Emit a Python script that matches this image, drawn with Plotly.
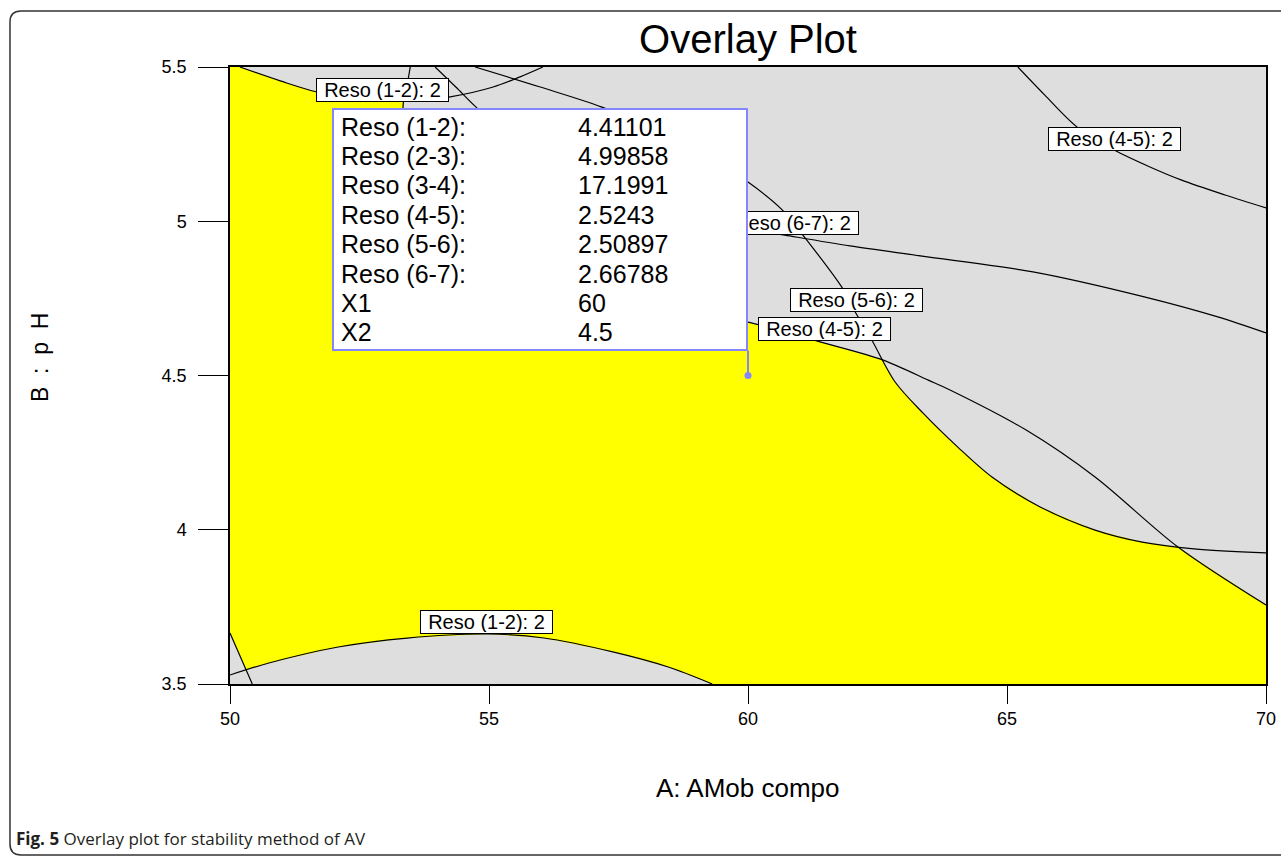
import numpy as np
import plotly.graph_objects as go

# ---------------- data ----------------
# Contour lines, each "Reso (..) = 2"; x = A: AMob compo, y = B: pH
reso12_top_x = [50.19, 50.97, 51.68, 52.41, 53.13, 53.86, 54.25, 55.08, 55.60, 56.04]
reso12_top_y = [5.500, 5.455, 5.419, 5.400, 5.390, 5.396, 5.403, 5.435, 5.468, 5.500]

reso45_low_x = [53.48, 53.42, 53.34, 53.44, 53.67, 54.15, 54.83, 55.79, 57.14, 58.69, 60.00,
                60.71, 61.39, 62.61, 63.48, 63.90, 65.37, 66.70, 68.30, 70.00]
reso45_low_y = [5.500, 5.442, 5.370, 5.296, 5.199, 5.085, 4.972, 4.868, 4.777, 4.712, 4.673,
                4.641, 4.609, 4.550, 4.485, 4.453, 4.323, 4.171, 3.944, 3.756]

reso56_x = [54.73, 55.99, 57.18, 58.69, 60.00, 60.66, 61.06, 61.82, 62.07, 62.39, 62.84,
            63.38, 64.05, 64.71, 65.64, 66.70, 67.61, 68.61, 70.00]
reso56_y = [5.500, 5.435, 5.370, 5.263, 5.127, 5.037, 4.955, 4.784, 4.706, 4.615, 4.479,
            4.378, 4.268, 4.171, 4.074, 3.999, 3.960, 3.938, 3.925]

reso67_x = [53.96, 54.36, 54.75, 55.60, 56.76, 58.11, 59.46, 60.71, 61.97, 63.36, 65.50,
            67.65, 69.07, 70.00]
reso67_y = [5.500, 5.435, 5.370, 5.247, 5.134, 5.046, 4.991, 4.955, 4.920, 4.887, 4.836,
            4.755, 4.690, 4.638]

reso45_up_x = [65.21, 65.73, 66.35, 67.07, 67.76, 68.36, 69.21, 70.00]
reso45_up_y = [5.500, 5.409, 5.306, 5.231, 5.176, 5.134, 5.085, 5.043]

reso12_low_x = [50.00, 50.75, 52.09, 53.42, 54.98, 56.06, 57.39, 58.46, 59.31]
reso12_low_y = [3.529, 3.568, 3.620, 3.649, 3.662, 3.649, 3.604, 3.555, 3.500]

edge_line_x = [50.00, 50.43]
edge_line_y = [3.665, 3.500]

# contour labels
label_text = ["Reso (1-2): 2", "Reso (1-2): 2", "Reso (6-7): 2", "Reso (5-6): 2",
              "Reso (4-5): 2", "Reso (4-5): 2"]
label_x = [52.95, 54.96, 60.85, 62.09, 61.47, 67.07]
label_y = [5.425, 3.701, 4.994, 4.745, 4.651, 5.267]

# flag / info box
flag_names = ["Reso (1-2):", "Reso (2-3):", "Reso (3-4):", "Reso (4-5):",
              "Reso (5-6):", "Reso (6-7):", "X1", "X2"]
flag_values = ["4.41101", "4.99858", "17.1991", "2.5243", "2.50897", "2.66788", "60", "4.5"]
flag_point = (60, 4.5)

x_ticks = [50, 55, 60, 65, 70]
y_ticks = [3.5, 4, 4.5, 5, 5.5]
y_tick_text = ["3.5", "4", "4.5", "5", "5.5"]

# ---------------- layout geometry ----------------
W, H = 1281, 858
ML, MR, MT, MB = 230, 15, 67, 174
PW, PH = W - ML - MR, H - MT - MB
XR, YR = (50, 70), (3.5, 5.5)
px_x = (XR[1] - XR[0]) / PW   # data units per pixel
px_y = (YR[1] - YR[0]) / PH

def paper(px, py):
    return (px - ML) / PW, (H - MB - py) / PH

FONT = "Liberation Sans, Arial, sans-serif"
YELLOW = "#ffff00"
GRAY = "#dedede"
BLUE = "#8585ff"

# ---------------- feasible (yellow) region from the curves ----------------
def arr(xs, ys):
    return np.column_stack([xs, ys]).astype(float)

def seg_inter(a, b, c, d):
    r, s = b - a, d - c
    den = r[0] * s[1] - r[1] * s[0]
    if abs(den) < 1e-14:
        return None
    q = c - a
    t = (q[0] * s[1] - q[1] * s[0]) / den
    u = (q[0] * r[1] - q[1] * r[0]) / den
    if 0 <= t <= 1 and 0 <= u <= 1:
        return t
    return None

def first_cross(A, B, ia0=0, ib0=0):
    for i in range(ia0, len(A) - 1):
        for j in range(ib0, len(B) - 1):
            t = seg_inter(A[i], A[i + 1], B[j], B[j + 1])
            if t is not None:
                return i, j, A[i] + t * (A[i + 1] - A[i])
    raise ValueError("no crossing")

A = arr(reso12_top_x, reso12_top_y)
Q = arr(reso45_low_x, reso45_low_y)
P = arr(reso56_x, reso56_y)
L = arr(reso12_low_x, reso12_low_y)
T = arr(edge_line_x, edge_line_y)

pts = [np.array([XR[0], YR[1]])]
i1, j1, c1 = first_cross(A, Q)
pts += list(A[:i1 + 1]) + [c1]
j2, k2, c2 = first_cross(Q, P, ia0=j1)
pts += list(Q[j1 + 1:j2 + 1]) + [c2]
k3, j3, c3 = first_cross(P, Q, ia0=k2 + 1, ib0=j2)
pts += list(P[k2 + 1:k3 + 1]) + [c3]
pts += list(Q[j3 + 1:])
pts += [np.array([XR[1], YR[0]])]
Lr = L[::-1]
m4, n4, c4 = first_cross(Lr, T)
pts += list(Lr[:m4 + 1]) + [c4]
pts += list(T[:n4 + 1][::-1])
pts = np.array(pts)

fig = go.Figure()
fig.add_trace(go.Scatter(x=pts[:, 0], y=pts[:, 1], mode="lines", fill="toself",
                         fillcolor=YELLOW, line=dict(width=0, color=YELLOW),
                         hoverinfo="skip", showlegend=False))

for xs, ys in [(reso12_top_x, reso12_top_y), (reso45_low_x, reso45_low_y),
               (reso56_x, reso56_y), (reso67_x, reso67_y),
               (reso45_up_x, reso45_up_y), (reso12_low_x, reso12_low_y),
               (edge_line_x, edge_line_y)]:
    fig.add_trace(go.Scatter(x=xs, y=ys, mode="lines",
                             line=dict(color="black", width=1.2, shape="spline",
                                       smoothing=0.9),
                             hoverinfo="skip", showlegend=False))

# flag connector & point
box_w_px, box_h_px, box_gap_px = 416, 243, 25
box_right = flag_point[0]
box_bottom = flag_point[1] + box_gap_px * px_y
box_top = box_bottom + box_h_px * px_y
box_left = box_right - box_w_px * px_x
fig.add_trace(go.Scatter(x=[flag_point[0], flag_point[0]], y=[box_bottom, flag_point[1]],
                         mode="lines", line=dict(color=BLUE, width=2),
                         hoverinfo="skip", showlegend=False))
fig.add_trace(go.Scatter(x=[flag_point[0]], y=[flag_point[1]], mode="markers",
                         marker=dict(color=BLUE, size=7),
                         hoverinfo="skip", showlegend=False))

annotations = []
for t, x, y in zip(label_text, label_x, label_y):
    annotations.append(dict(x=x, y=y, xref="x", yref="y", xanchor="center",
                            yanchor="middle", text=t, showarrow=False,
                            font=dict(family=FONT, size=20, color="black"),
                            bgcolor="white", bordercolor="black", borderwidth=1,
                            borderpad=1, width=129, height=20))

# info box (annotation so it sits above the contour labels)
annotations.append(dict(x=box_right, y=box_top, xref="x", yref="y", xanchor="right",
                        yanchor="top", text=" ", showarrow=False, bgcolor="white",
                        bordercolor=BLUE, borderwidth=2, borderpad=0,
                        width=box_w_px - 4, height=box_h_px - 4))
row0_px, row_step_px = 19, 29.4
name_x = box_left + 7 * px_x
val_x = box_left + 244 * px_x
for i, (nm, vl) in enumerate(zip(flag_names, flag_values)):
    yy = box_top - (row0_px + row_step_px * i) * px_y
    annotations.append(dict(x=name_x, y=yy, xref="x", yref="y", xanchor="left",
                            yanchor="middle", text=nm, showarrow=False,
                            font=dict(family=FONT, size=25, color="black")))
    annotations.append(dict(x=val_x, y=yy, xref="x", yref="y", xanchor="left",
                            yanchor="middle", text=vl, showarrow=False,
                            font=dict(family=FONT, size=25, color="black")))

# axis titles and caption
ax_x, ax_y = paper(748, 788)
annotations.append(dict(x=ax_x, y=ax_y, xref="paper", yref="paper", xanchor="center",
                        yanchor="middle", text="A: AMob compo",
                        showarrow=False, font=dict(family=FONT, size=26, color="black")))
ay_x, ay_y = paper(40, 358)
annotations.append(dict(x=ay_x, y=ay_y, xref="paper", yref="paper", xanchor="center",
                        yanchor="middle",
                        text="B\u00a0\u00a0:\u00a0\u00a0p\u00a0\u00a0H", textangle=-90,
                        showarrow=False, font=dict(family=FONT, size=23, color="black")))
cp_x, cp_y = paper(14, 838)
annotations.append(dict(x=cp_x, y=cp_y, xref="paper", yref="paper", xanchor="left",
                        yanchor="middle",
                        text="<b>Fig. 5</b> Overlay plot for stability method of AV",
                        showarrow=False,
                        font=dict(family="Open Sans, Noto Sans, sans-serif", size=17,
                                  color="#231f20")))

# rounded page frame
def P_(px, py):
    a, b = paper(px, py)
    return f"{a:.5f},{b:.5f}"
frame = (f"M {P_(1300, 11)} L {P_(21, 11)} Q {P_(10, 11)} {P_(10, 22)} "
         f"L {P_(10, 844)} Q {P_(10, 855)} {P_(21, 855)} L {P_(1300, 855)}")
shapes = [dict(type="path", xref="paper", yref="paper", path=frame,
               line=dict(color="#333333", width=1.5), layer="above")]

fig.update_layout(
    width=W, height=H, autosize=False,
    margin=dict(l=ML, r=MR, t=MT, b=MB, pad=0, autoexpand=False),
    paper_bgcolor="white", plot_bgcolor=GRAY,
    title=dict(text="Overlay Plot", x=0.5, xref="paper", y=1 - 39 / H, yref="container",
               xanchor="center", yanchor="middle",
               font=dict(family=FONT, size=40, color="black")),
    annotations=annotations, shapes=shapes, showlegend=False,
)
fig.update_xaxes(range=list(XR), tickvals=x_ticks, ticktext=[str(v) for v in x_ticks],
                 ticks="outside", ticklen=18, tickwidth=1, tickcolor="black",
                 showgrid=False, zeroline=False, showline=True, mirror=True,
                 linecolor="black", linewidth=1.5, automargin=False,
                 tickfont=dict(family=FONT, size=18, color="black"))
fig.update_yaxes(range=list(YR), tickvals=y_ticks, ticktext=y_tick_text,
                 ticks="outside", ticklen=30, tickwidth=1, tickcolor="black",
                 showgrid=False, zeroline=False, showline=True, mirror=True,
                 linecolor="black", linewidth=1.5, ticklabelstandoff=8, automargin=False,
                 tickfont=dict(family=FONT, size=18, color="black"))

fig.write_html("out.html", config={"responsive": False})
